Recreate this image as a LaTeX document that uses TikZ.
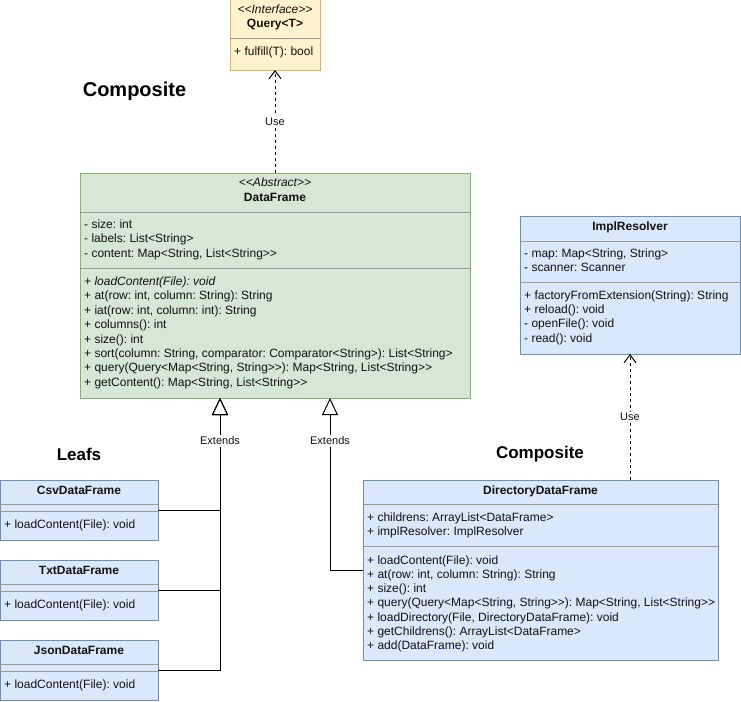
\documentclass[tikz,border=0pt]{standalone}
\usepackage{fontspec}
\setmainfont{Liberation Sans}[Ligatures=TeXOff]
\usetikzlibrary{arrows.meta,calc}
\definecolor{yfill}{HTML}{FFF2CC}
\definecolor{ystroke}{HTML}{D6B656}
\definecolor{gfill}{HTML}{D5E8D4}
\definecolor{gstroke}{HTML}{82B366}
\definecolor{bfill}{HTML}{DAE8FC}
\definecolor{bstroke}{HTML}{6C8EBF}
\definecolor{divcol}{HTML}{999999}
\definecolor{txtcol}{HTML}{111111}
\frenchspacing
\begin{document}
\begin{tikzpicture}[x=1pt,y=-1pt,
  box/.style={draw, line width=1pt, anchor=north west, inner sep=0pt, outer sep=0pt},
  txt/.style={anchor=west, inner sep=0pt, text height=9pt, text depth=3pt, text=txtcol, font=\fontsize{12}{14.4}\selectfont},
  ttl/.style={inner sep=0pt, text height=9pt, text depth=3pt, text=txtcol, font=\bfseries\fontsize{12}{14.4}\selectfont},
  stereo/.style={inner sep=0pt, text height=9pt, text depth=3pt, text=txtcol, font=\itshape\fontsize{12}{14.4}\selectfont},
  divline/.style={draw=divcol, line width=1pt},
  head/.style={inner sep=0pt, font=\bfseries\fontsize{17}{20}\selectfont},
  lbl/.style={fill=white, inner sep=1.5pt, text=txtcol, font=\fontsize{11}{13}\selectfont},
  usearrow/.style={draw, line width=1pt, dash pattern=on 3pt off 3pt, -{Straight Barb[length=8pt,width=12pt,line width=1pt]}},
  extarrow/.style={draw, line width=1pt, -{Triangle[open,length=17pt,width=16pt,fill=white,line width=1pt]}}
]
\useasboundingbox (0,0) rectangle (741,701);

% headings
\node[inner sep=0pt, font=\bfseries\fontsize{20}{24}\selectfont] (h1) at (134.5,91) {Composite};
\node[head] (h2) at (79,454) {Leafs};
\node[head] (h3) at (540,454) {Composite};

% Query<T>
\node[box, draw=ystroke, fill=yfill, minimum width=90pt, minimum height=70pt] (query) at (230,0) {};
\node[stereo] (q-s) at (275,10.5) {<<Interface>>};
\node[ttl] (q-t) at (275,25) {Query<T>};
\draw[divline] (230,39) -- (320,39);
\node[txt] (q-m0) at (234,53) {+ fulfill(T): bool};

% DataFrame
\node[box, draw=gstroke, fill=gfill, minimum width=390pt, minimum height=225pt] (df) at (80,173) {};
\node[stereo] (df-s) at (275,183.5) {<<Abstract>>};
\node[ttl] (df-t) at (275,198) {DataFrame};
\draw[divline] (80,212) -- (470,212);
\foreach \t [count=\i from 0] in {{- size: int},{- labels: List<String>},{- content: Map<String, List<String>>}}
  \node[txt] (df-a\i) at (84,225.5+14.4*\i) {\t};
\draw[divline] (80,268) -- (470,268);
\foreach \t [count=\i from 0] in {{\textit{+ loadContent(File): void}},{+ at(row: int, column: String): String},{+ iat(row: int, column: int): String},{+ columns(): int},{+ size(): int},{+ sort(column: String, comparator: Comparator<String>): List<String>},{+ query(Query<Map<String, String>>): Map<String, List<String>>},{+ getContent(): Map<String, List<String>>}}
  \node[txt] (df-m\i) at (84,282.5+14.4*\i) {\t};

% ImplResolver
\node[box, draw=bstroke, fill=bfill, minimum width=220pt, minimum height=138pt] (impl) at (520,216) {};
\node[ttl] (impl-t) at (630,227.5) {ImplResolver};
\draw[divline] (520,241) -- (740,241);
\foreach \t [count=\i from 0] in {{- map: Map<String, String>},{- scanner: Scanner}}
  \node[txt] (impl-a\i) at (524,254+14.4*\i) {\t};
\draw[divline] (520,282) -- (740,282);
\foreach \t [count=\i from 0] in {{+ factoryFromExtension(String): String},{+ reload(): void},{- openFile(): void},{- read(): void}}
  \node[txt] (impl-m\i) at (524,296.5+14.2*\i) {\t};

% DirectoryDataFrame
\node[box, draw=bstroke, fill=bfill, minimum width=355pt, minimum height=180pt] (dir) at (363,480) {};
\node[ttl] (dir-t) at (540.5,491.5) {DirectoryDataFrame};
\draw[divline] (363,504) -- (718,504);
\foreach \t [count=\i from 0] in {{+ childrens: ArrayList<DataFrame>},{+ implResolver: ImplResolver}}
  \node[txt] (dir-a\i) at (367,518.5+14.4*\i) {\t};
\draw[divline] (363,546) -- (718,546);
\foreach \t [count=\i from 0] in {{+ loadContent(File): void},{+ at(row: int, column: String): String},{+ size(): int},{+ query(Query<Map<String, String>>): Map<String, List<String>>},{+ loadDirectory(File, DirectoryDataFrame): void},{+ getChildrens(): ArrayList<DataFrame>},{+ add(DataFrame): void}}
  \node[txt] (dir-m\i) at (367,561+14.3*\i) {\t};

% Leaf classes
\foreach \n/\name/\y in {csv/CsvDataFrame/480,txt/TxtDataFrame/560,json/JsonDataFrame/640}{
  \node[box, draw=bstroke, fill=bfill, minimum width=158pt, minimum height=60pt] (\n) at (0,\y) {};
  \node[ttl] (\n-t) at (79,\y+11.5) {\name};
  \draw[divline] (0,\y+24) -- (158,\y+24);
  \draw[divline] (0,\y+31.5) -- (158,\y+31.5);
  \node[txt] (\n-m0) at (4,\y+45.5) {+ loadContent(File): void};
}

% connectors
\draw[usearrow] (df.north) -- node[lbl] (use1) {Use} (query.south);
\draw[usearrow] (dir.north -| impl.south) -- node[lbl] (use2) {Use} (impl.south);

\draw[extarrow] (json.east) -| ([xshift=140pt]df.south west);
\draw[extarrow] (txt.east) -| ([xshift=140pt]df.south west);
\draw[extarrow] (csv.east) -| ([xshift=140pt]df.south west);
\draw[extarrow] (dir.west) -| ([xshift=250pt]df.south west);
\node[lbl] (ext1) at (220,441) {Extends};
\node[lbl] (ext2) at (330,441) {Extends};
\end{tikzpicture}
\end{document}
